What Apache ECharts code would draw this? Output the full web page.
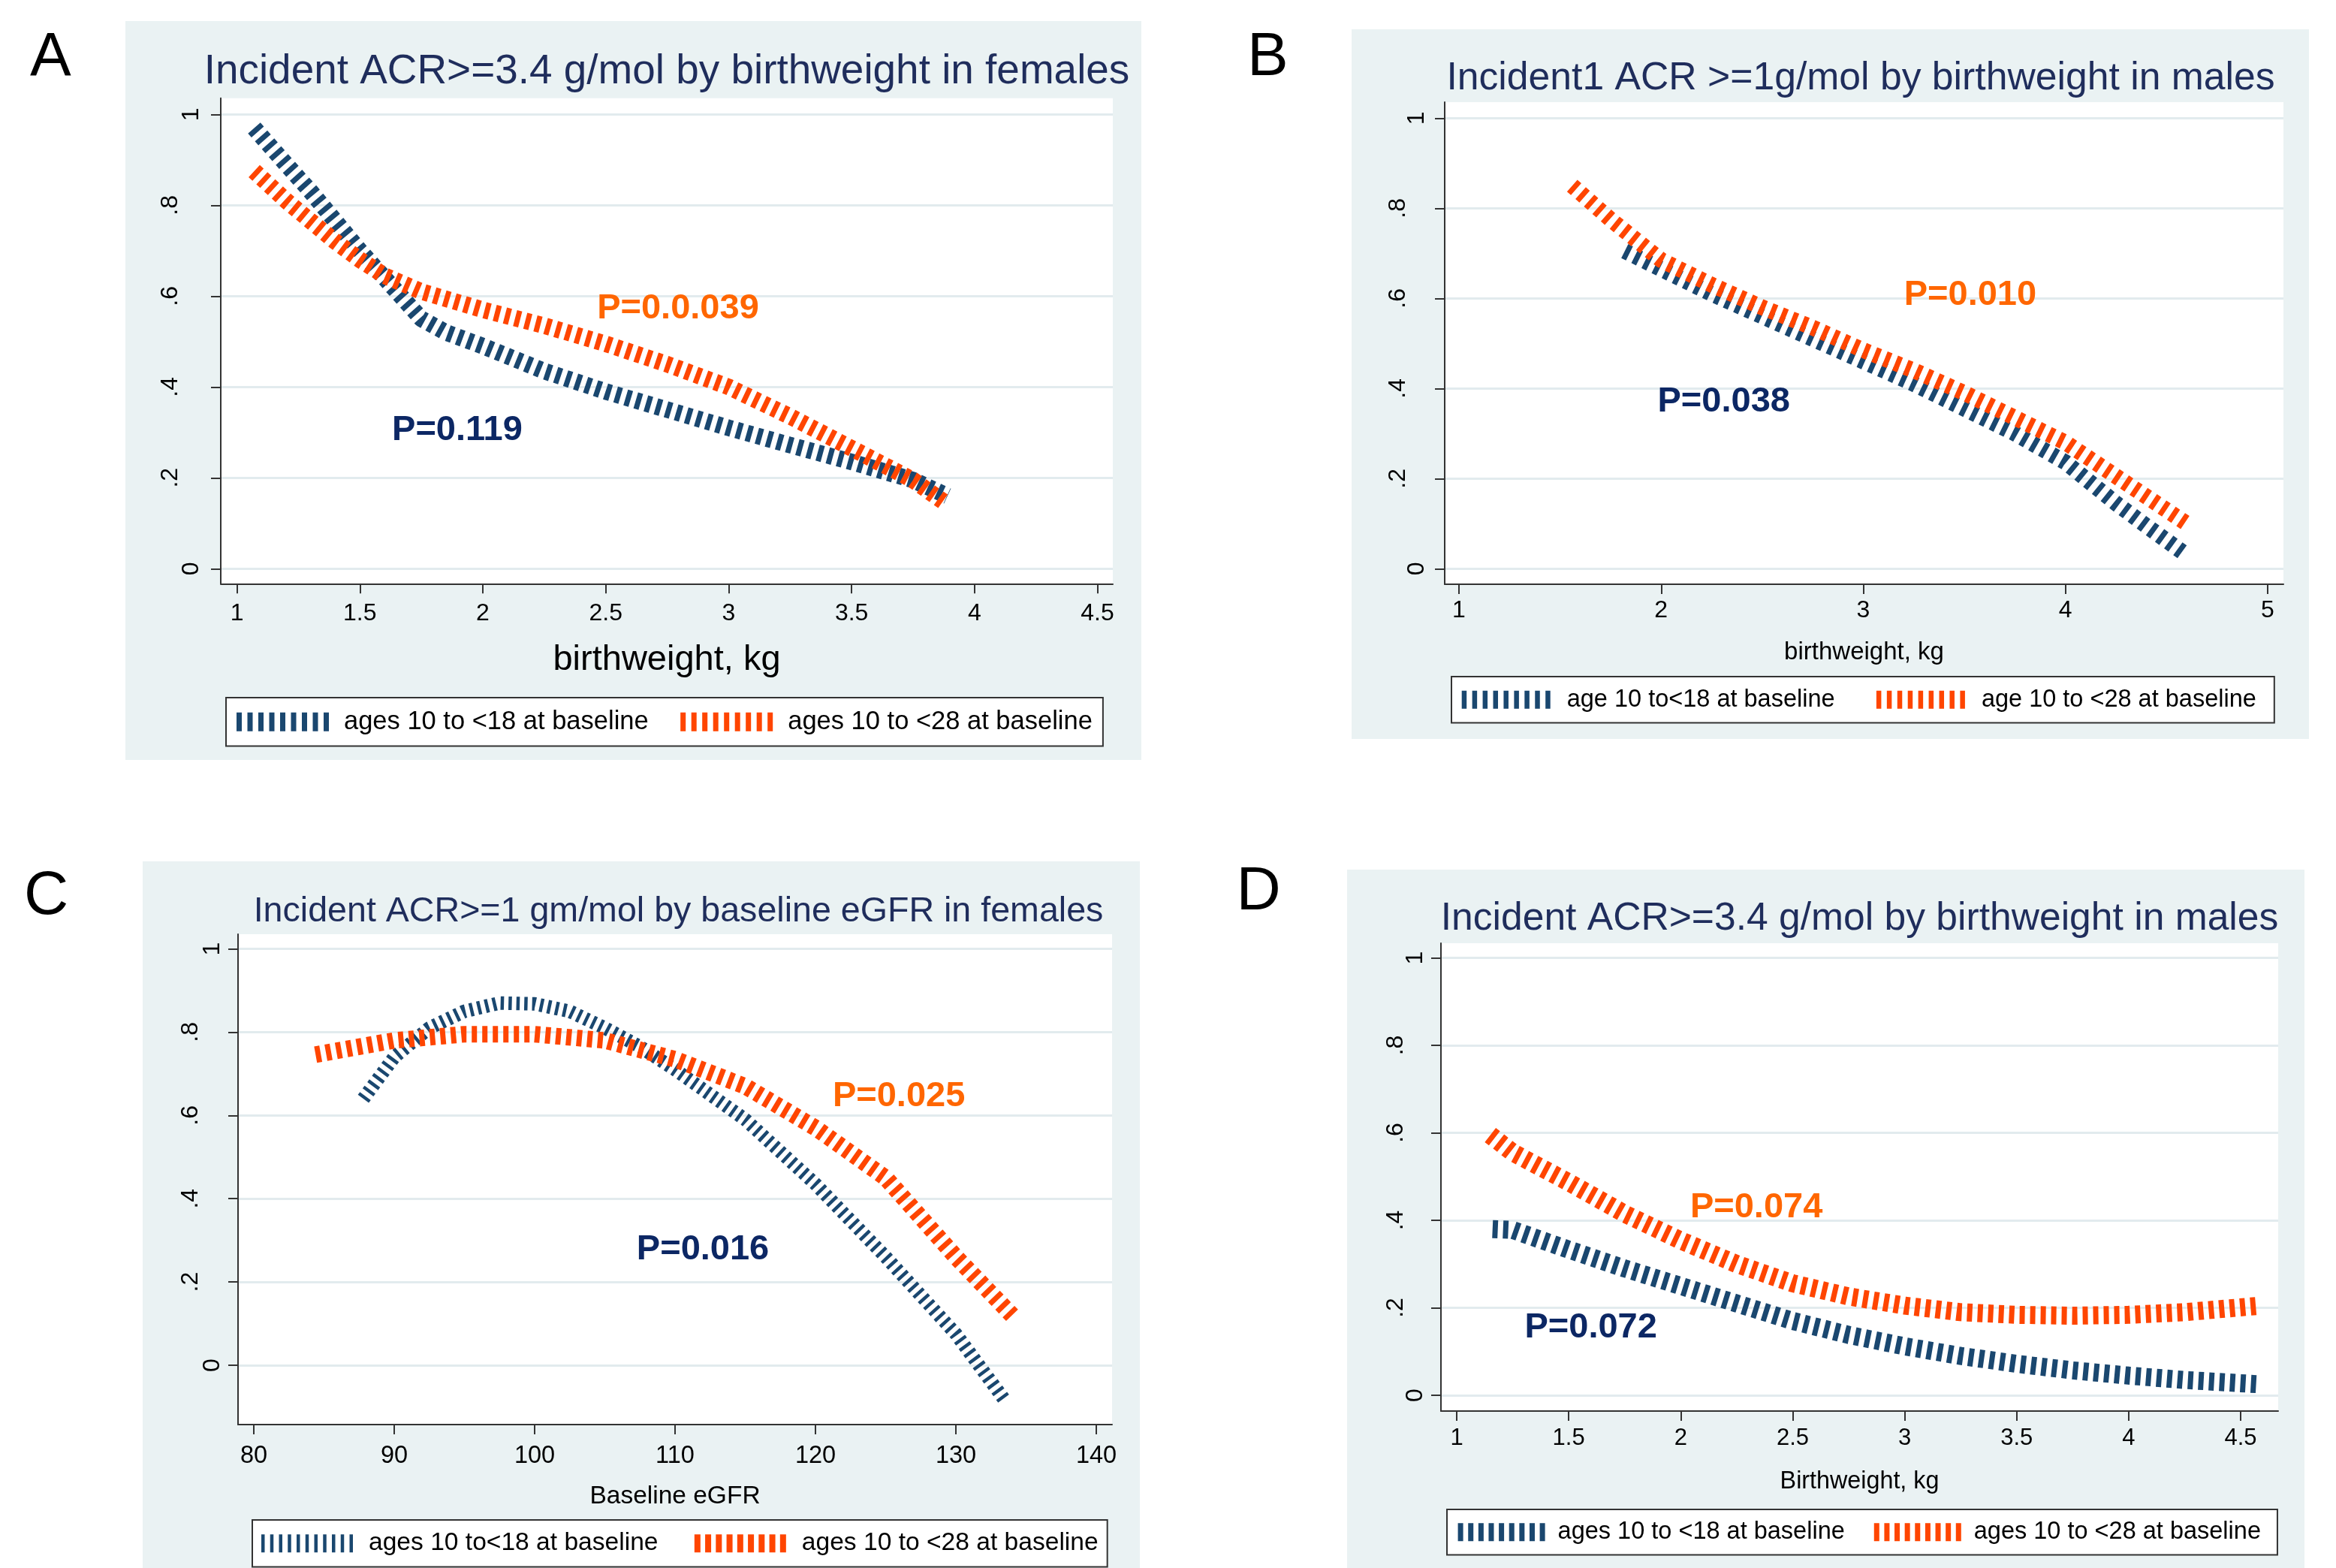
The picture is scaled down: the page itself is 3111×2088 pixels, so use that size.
<!DOCTYPE html>
<html><head><meta charset="utf-8">
<script src="https://cdn.jsdelivr.net/npm/echarts@6/dist/echarts.min.js"></script>
<style>html,body{margin:0;padding:0;background:#fff}#c{width:3111px;height:2088px}</style>
</head><body><div id="c"></div>
<script>
// ---------------- data ----------------
const titles = [
  'Incident ACR>=3.4 g/mol by birthweight in females',
  'Incident1 ACR >=1g/mol by birthweight in males',
  'Incident ACR>=1 gm/mol by baseline eGFR in females',
  'Incident ACR>=3.4 g/mol by birthweight in males'
];
const panelLetters = ['A', 'B', 'C', 'D'];
const xAxisTitles = ['birthweight, kg', 'birthweight, kg', 'Baseline eGFR', 'Birthweight, kg'];
const navyNames = ['ages 10 to <18 at baseline', 'age 10 to<18 at baseline', 'ages 10 to<18 at baseline', 'ages 10 to <18 at baseline'];
const orangeNames = ['ages 10 to <28 at baseline', 'age 10 to <28 at baseline', 'ages 10 to <28 at baseline', 'ages 10 to <28 at baseline'];

const yTicks = [0, 0.2, 0.4, 0.6, 0.8, 1];
const yTickLabels = ['0', '.2', '.4', '.6', '.8', '1'];
const xTicksA = [1, 1.5, 2, 2.5, 3, 3.5, 4, 4.5];
const xTickLabelsA = ['1', '1.5', '2', '2.5', '3', '3.5', '4', '4.5'];
const xTicksB = [1, 2, 3, 4, 5];
const xTickLabelsB = ['1', '2', '3', '4', '5'];
const xTicksC = [80, 90, 100, 110, 120, 130, 140];
const xTickLabelsC = ['80', '90', '100', '110', '120', '130', '140'];
const xTicksD = [1, 1.5, 2, 2.5, 3, 3.5, 4, 4.5];
const xTickLabelsD = ['1', '1.5', '2', '2.5', '3', '3.5', '4', '4.5'];

// Panel A
const xA_navy = [1.07, 1.2, 1.3, 1.4, 1.5, 1.6, 1.7, 1.75, 1.85, 2.0, 2.25, 2.5, 2.75, 3.0, 3.25, 3.5, 3.75, 3.89];
const yA_navy = [0.97, 0.89, 0.83, 0.765, 0.70, 0.64, 0.58, 0.55, 0.52, 0.49, 0.435, 0.39, 0.35, 0.31, 0.272, 0.235, 0.195, 0.16];
const xA_orange = [1.07, 1.2, 1.3, 1.4, 1.5, 1.6, 1.75, 2.0, 2.25, 2.5, 2.75, 3.0, 3.25, 3.5, 3.75, 3.88];
const yA_orange = [0.875, 0.81, 0.765, 0.72, 0.68, 0.645, 0.61, 0.57, 0.535, 0.495, 0.45, 0.40, 0.335, 0.265, 0.195, 0.145];
// Panel B
const xB_navy = [1.82, 2.0, 2.25, 2.5, 2.75, 3.0, 3.25, 3.5, 3.75, 4.0, 4.25, 4.4, 4.6];
const yB_navy = [0.705, 0.665, 0.61, 0.56, 0.51, 0.46, 0.41, 0.355, 0.30, 0.236, 0.145, 0.095, 0.03];
const xB_orange = [1.56, 1.75, 2.0, 2.25, 2.5, 2.75, 3.0, 3.25, 3.5, 3.75, 4.0, 4.25, 4.4, 4.6];
const yB_orange = [0.85, 0.775, 0.685, 0.63, 0.58, 0.535, 0.485, 0.44, 0.39, 0.335, 0.28, 0.205, 0.16, 0.10];
// Panel C
const xC_navy = [87.8, 90, 92.5, 95, 97.5, 100, 102.5, 105, 107.5, 110, 115, 120, 125, 130, 133.5];
const yC_navy = [0.64, 0.74, 0.81, 0.85, 0.87, 0.868, 0.85, 0.81, 0.765, 0.71, 0.59, 0.435, 0.26, 0.075, -0.085];
const xC_orange = [84.4, 87.5, 90, 95, 100, 105, 110, 115, 120, 125, 130, 134];
const yC_orange = [0.746, 0.765, 0.78, 0.795, 0.795, 0.78, 0.735, 0.67, 0.57, 0.45, 0.26, 0.12];
// Panel D
const xD_navy = [1.16, 1.25, 1.5, 1.75, 2.0, 2.25, 2.5, 2.75, 3.0, 3.25, 3.5, 3.75, 4.0, 4.25, 4.59];
const yD_navy = [0.38, 0.378, 0.333, 0.29, 0.25, 0.21, 0.17, 0.138, 0.112, 0.09, 0.072, 0.057, 0.045, 0.035, 0.025];
const xD_orange = [1.15, 1.25, 1.5, 1.75, 2.0, 2.25, 2.5, 2.75, 3.0, 3.25, 3.5, 3.75, 4.0, 4.25, 4.59];
const yD_orange = [0.595, 0.555, 0.487, 0.415, 0.354, 0.30, 0.256, 0.226, 0.205, 0.19, 0.184, 0.182, 0.184, 0.19, 0.205];

// P-value annotations (navy, orange) in data coordinates
const pTextNavy = ['P=0.119', 'P=0.038', 'P=0.016', 'P=0.072'];
const pXNavy = [1.896, 2.31, 111.98, 1.599];
const pYNavy = [0.305, 0.37, 0.277, 0.155];
const pTextOrange = ['P=0.0.039', 'P=0.010', 'P=0.025', 'P=0.074'];
const pXOrange = [2.794, 3.529, 125.94, 2.338];
const pYOrange = [0.572, 0.607, 0.646, 0.429];

// ---------------- styling / layout ----------------
const FONT = "'Liberation Sans', Arial, Helvetica, sans-serif";
const NAVY = '#1a476f', ORANGE = '#ff4500';
const TITLE_COLOR = '#1f2d5c', P_NAVY = '#0c2764', P_ORANGE = '#ff6600';
const BG = '#eaf2f3', GRIDLINE = '#e2ebee', AXIS = '#333333';

const navyX = [xA_navy, xB_navy, xC_navy, xD_navy];
const navyY = [yA_navy, yB_navy, yC_navy, yD_navy];
const orangeX = [xA_orange, xB_orange, xC_orange, xD_orange];
const orangeY = [yA_orange, yB_orange, yC_orange, yD_orange];
const xTicks = [xTicksA, xTicksB, xTicksC, xTicksD];
const xTickLabels = [xTickLabelsA, xTickLabelsB, xTickLabelsC, xTickLabelsD];

const layout = [
  { bg: [167, 28, 1353, 984], grid: [294, 130.7, 1188, 646.6], xr: [0.934, 4.5625], yr: [-0.0331, 1.0357],
    xls: 32, xlm: 24, ns: 47, ng: 78, yls: 32, ylm: 23, ydp: 28,
    title: [888, 96.2, 54.9], letter: [40, 77.6],
    lg: { left: 301, top: 929, pad: [14.75, 14, 14.75, 14], iw: 123, ih: 25, gap: 42.5, fs: 34.5, tp: 15,
          navyIcon: [9, 7], orangeIcon: [9, 7] },
    ln: { nw: 22, nd: [7, 7], ow: 22, od: [7, 7] } },
  { bg: [1800, 39, 1275, 945], grid: [1924, 136, 1117, 642], xr: [0.9294, 5.078], yr: [-0.0345, 1.0355],
    xls: 32, xlm: 19, ns: 33, ng: 74.5, yls: 32, ylm: 21, ydp: 25,
    title: [2478, 104.3, 51.7], letter: [1661, 77.6],
    lg: { left: 1933, top: 901, pad: [14.25, 24, 14.25, 13.7], iw: 118, ih: 24, gap: 55.3, fs: 32.5, tp: 17,
          navyIcon: [9, 6.5], orangeIcon: [9, 6.5] },
    ln: { nw: 21, nd: [7, 8], ow: 21, od: [7, 8] } },
  { bg: [190, 1147, 1328, 941], grid: [317, 1244, 1164, 653], xr: [78.877, 141.12], yr: [-0.1425, 1.0352],
    xls: 32.5, xlm: 26, ns: 33.5, ng: 78.7, yls: 32, ylm: 18, ydp: 29,
    title: [903.5, 1214.3, 46.6], letter: [32, 1194.6],
    lg: { left: 336, top: 2024, pad: [14.2, 12, 14.2, 12], iw: 122, ih: 24, gap: 48.3, fs: 33.6, tp: 16,
          navyIcon: [11, 4.5], orangeIcon: [9, 8] },
    ln: { nw: 18, nd: [4.5, 6], ow: 22, od: [7, 7] } },
  { bg: [1794, 1158, 1275, 930], grid: [1919, 1256, 1115, 623], xr: [0.9296, 4.6675], yr: [-0.036, 1.0335],
    xls: 31, xlm: 20.5, ns: 32.3, ng: 78, yls: 32, ylm: 18, ydp: 26,
    title: [2476.5, 1223.6, 51.6], letter: [1646.5, 1188.6],
    lg: { left: 1927, top: 2010, pad: [13.75, 22, 13.75, 14.6], iw: 116, ih: 24, gap: 39, fs: 32.5, tp: 12,
          navyIcon: [9, 7], orangeIcon: [9, 7] },
    ln: { nw: 24, nd: [7, 7], ow: 24, od: [7, 7] } }
];

function hatch(n, barW, W, H) {
  const p = (W - barW) / (n - 1);
  let d = '';
  for (let i = 0; i < n; i++) d += 'M' + (i * p).toFixed(2) + ',0h' + barW + 'v' + H + 'h-' + barW + 'z';
  return 'path://' + d;
}
function zip(xs, ys) { return xs.map((x, i) => [x, ys[i]]); }
function lookup(ticks, labels, v) {
  const i = ticks.findIndex(t => Math.abs(t - v) < 1e-9);
  return i >= 0 ? labels[i] : '';
}
function pLabel(color) {
  return { show: true, position: 'inside', formatter: '{b}', fontSize: 47, fontWeight: 'bold', fontFamily: FONT,
           color: color, textBorderWidth: 0, textBorderColor: 'transparent', textShadowBlur: 0, opacity: 1 };
}

const grid = [], xAxis = [], yAxis = [], series = [], legend = [], graphic = [];

layout.forEach((L, i) => {
  graphic.push({ type: 'rect', z: -100, silent: true,
    shape: { x: L.bg[0], y: L.bg[1], width: L.bg[2], height: L.bg[3] }, style: { fill: BG } });
  graphic.push({ type: 'text', z: 100, silent: true, x: L.title[0], y: L.title[1],
    style: { text: titles[i], fontSize: L.title[2], fontFamily: FONT, fill: TITLE_COLOR,
             align: 'center', verticalAlign: 'middle', textAlign: 'center', textVerticalAlign: 'middle' } });
  graphic.push({ type: 'text', z: 100, silent: true, x: L.letter[0], y: L.letter[1],
    style: { text: panelLetters[i], fontSize: 82, fontFamily: FONT, fill: '#000',
             align: 'left', verticalAlign: 'middle', textAlign: 'left', textVerticalAlign: 'middle' } });

  grid.push({ left: L.grid[0], top: L.grid[1], width: L.grid[2], height: L.grid[3],
              show: true, backgroundColor: '#ffffff', borderWidth: 0, containLabel: false });

  const xt = xTicks[i], xl = xTickLabels[i];
  xAxis.push({ gridIndex: i, type: 'value', min: L.xr[0], max: L.xr[1],
    axisLine: { show: true, onZero: false, lineStyle: { color: AXIS, width: 2 } },
    axisTick: { show: true, length: 13, customValues: xt, lineStyle: { color: AXIS, width: 2 } },
    axisLabel: { customValues: xt, fontSize: L.xls, fontFamily: FONT, color: '#000', margin: L.xlm,
                 formatter: v => lookup(xt, xl, v) },
    splitLine: { show: false },
    name: xAxisTitles[i], nameLocation: 'middle', nameGap: L.ng,
    nameTextStyle: { fontSize: L.ns, fontFamily: FONT, color: '#000' } });

  yAxis.push({ gridIndex: i, type: 'value', min: L.yr[0], max: L.yr[1],
    axisLine: { show: true, onZero: false, lineStyle: { color: AXIS, width: 2 } },
    axisTick: { show: true, length: 13, customValues: yTicks, lineStyle: { color: AXIS, width: 2 } },
    axisLabel: { customValues: yTicks, rotate: 90, margin: L.ylm,
      formatter: v => { const s = lookup(yTicks, yTickLabels, v); return s.charAt(0) === '.' ? '{d|' + s + '}' : '{n|' + s + '}'; },
      rich: { n: { fontSize: L.yls, fontFamily: FONT, color: '#000' },
              d: { fontSize: L.yls, fontFamily: FONT, color: '#000', padding: [0, 0, L.ydp, 0] } } },
    splitLine: { show: true, lineStyle: { color: GRIDLINE, width: 3 } } });

  series.push({ type: 'line', name: navyNames[i], xAxisIndex: i, yAxisIndex: i,
    data: zip(navyX[i], navyY[i]), showSymbol: false, symbol: 'none', silent: true, animation: false, z: 3,
    itemStyle: { color: NAVY }, lineStyle: { color: NAVY, width: L.ln.nw, type: L.ln.nd, cap: 'butt', join: 'bevel' } });
  series.push({ type: 'line', name: orangeNames[i], xAxisIndex: i, yAxisIndex: i,
    data: zip(orangeX[i], orangeY[i]), showSymbol: false, symbol: 'none', silent: true, animation: false, z: 4,
    itemStyle: { color: ORANGE }, lineStyle: { color: ORANGE, width: L.ln.ow, type: L.ln.od, cap: 'butt', join: 'bevel' } });

  series.push({ type: 'scatter', name: 'pnavy' + i, xAxisIndex: i, yAxisIndex: i, silent: true, animation: false, z: 6,
    symbolSize: 0, itemStyle: { color: P_NAVY },
    data: [{ value: [pXNavy[i], pYNavy[i]], name: pTextNavy[i] }],
    label: pLabel(P_NAVY), emphasis: { disabled: true } });
  series.push({ type: 'scatter', name: 'porange' + i, xAxisIndex: i, yAxisIndex: i, silent: true, animation: false, z: 6,
    symbolSize: 0, itemStyle: { color: P_ORANGE },
    data: [{ value: [pXOrange[i], pYOrange[i]], name: pTextOrange[i] }],
    label: pLabel(P_ORANGE), emphasis: { disabled: true } });

  const g = L.lg;
  legend.push({ orient: 'horizontal', left: g.left, top: g.top, padding: g.pad, itemGap: g.gap,
    itemWidth: g.iw, itemHeight: g.ih, selectedMode: false, backgroundColor: '#ffffff',
    borderColor: '#333333', borderWidth: 2, borderRadius: 0, symbolKeepAspect: false,
    itemStyle: { borderWidth: 0 },
    textStyle: { fontSize: g.fs, fontFamily: FONT, color: '#000', padding: [0, 0, 0, g.tp] },
    data: [
      { name: navyNames[i], icon: hatch(g.navyIcon[0], g.navyIcon[1], g.iw, g.ih), itemStyle: { color: NAVY, borderWidth: 0 } },
      { name: orangeNames[i], icon: hatch(g.orangeIcon[0], g.orangeIcon[1], g.iw, g.ih), itemStyle: { color: ORANGE, borderWidth: 0 } }
    ] });
});

const chart = echarts.init(document.getElementById('c'), null, { renderer: 'canvas' });
chart.setOption({
  backgroundColor: '#ffffff',
  animation: false,
  textStyle: { fontFamily: FONT },
  grid, xAxis, yAxis, series, legend, graphic
});
</script></body></html>
